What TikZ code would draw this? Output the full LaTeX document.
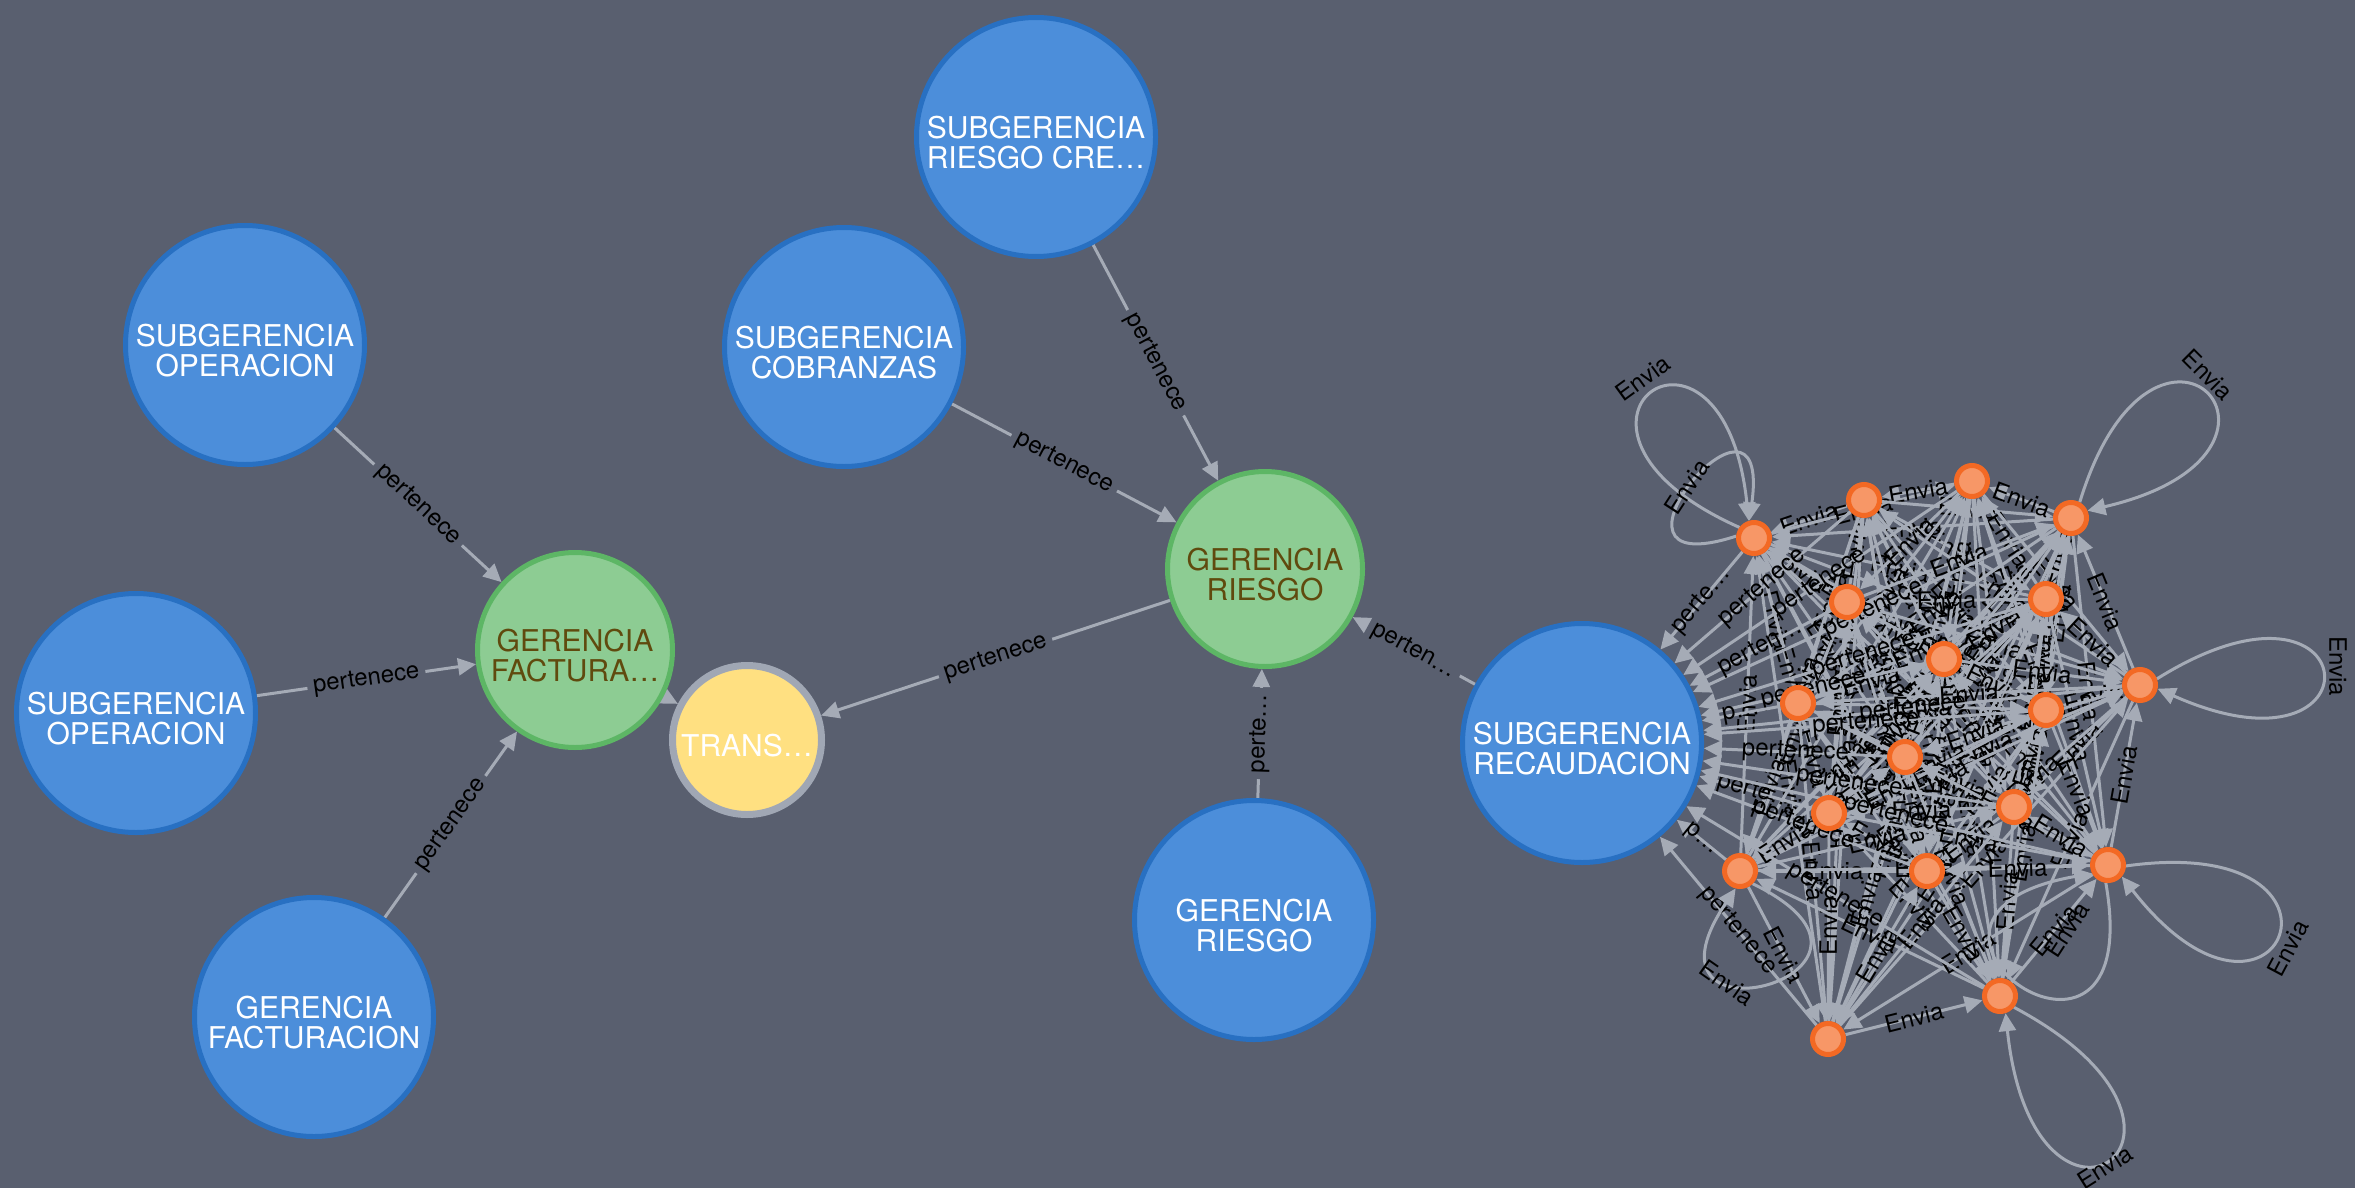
\documentclass[tikz,border=0pt]{standalone}
\usepackage{fontspec}
\setmainfont{TeX Gyre Heros}
\usetikzlibrary{arrows.meta,calc}
\definecolor{bgc}{HTML}{595F6F}
\definecolor{edgec}{HTML}{A5ABB6}
\definecolor{bluef}{HTML}{4C8EDA}
\definecolor{blued}{HTML}{2870C2}
\definecolor{greenf}{HTML}{8DCC93}
\definecolor{greend}{HTML}{5DB665}
\definecolor{greent}{HTML}{604A0E}
\definecolor{yellowf}{HTML}{FFE081}
\definecolor{yellowd}{HTML}{A0A7B4}
\definecolor{orangef}{HTML}{F79767}
\definecolor{oranged}{HTML}{F36924}
\newcommand\nodecapfont{\fontsize{30}{30}\selectfont}
\newcommand\relcapfont{\fontsize{24}{24}\selectfont}
\newcommand\capup{\rule{0pt}{34pt}}
\pgfdeclarelayer{back}\pgfdeclarelayer{edges}
\pgfsetlayers{back,edges,main}
\tikzset{
  bnode/.style={circle, fill=bluef, draw=blued, line width=5pt, minimum size=239pt, inner sep=0pt,
    text=white, font=\nodecapfont, align=center},
  gnode/.style={circle, fill=greenf, draw=greend, line width=5pt, minimum size=195pt, inner sep=0pt,
    text=greent, font=\nodecapfont, align=center},
  ynode/.style={circle, fill=yellowf, draw=yellowd, line width=7pt, minimum size=149pt, inner sep=0pt,
    text=white, font=\nodecapfont, align=center},
  onode/.style={circle, fill=orangef, draw=oranged, line width=5pt, minimum size=31pt, inner sep=0pt},
  rel/.style={draw=edgec, line width=3pt, -{Triangle[length=18pt,width=17pt]}},
  rlab/.style={font=\relcapfont, text=black, sloped, inner sep=6pt, fill=bgc},
  clab/.style={font=\relcapfont, text=black, sloped, inner sep=1pt},
  llab/.style={font=\relcapfont, text=black, inner sep=1pt},
}
\newcommand\selfloop[7]{%
  \pgfmathtruncatemacro\loopaa{#2+0.6*#3}%
  \pgfmathtruncatemacro\loopbb{#2-0.6*#3}%
  \draw[rel] (#1.\loopaa) .. controls +({-(#2+#3)}:#4) and +({-(#2-#3)}:#4) .. (#1.\loopbb);
  \node[llab, rotate=#7] at (#5,#6) {Envia};
}
\begin{document}
\begin{tikzpicture}[x=1pt,y=-1pt]
\useasboundingbox (0,0) rectangle (2355,1188);
\begin{pgfonlayer}{back}
  \fill[bgc] (0,0) rectangle (2355,1188);
\end{pgfonlayer}

% main nodes
\node[bnode] (sro) at (245,345) {\capup SUBGERENCIA\\OPERACION};
\node[bnode] (slo) at (136,713) {\capup SUBGERENCIA\\OPERACION};
\node[bnode] (gfac) at (314,1017) {\capup GERENCIA\\FACTURACION};
\node[gnode] (gf) at (575,650) {\capup GERENCIA\\FACTURA…};
\node[ynode] (tr) at (747,740) {\capup TRANS…};
\node[bnode] (cob) at (844,347) {\capup SUBGERENCIA\\COBRANZAS};
\node[bnode] (crd) at (1036,137) {\capup SUBGERENCIA\\RIESGO CRE…};
\node[gnode] (gr) at (1265,569) {\capup GERENCIA\\RIESGO};
\node[bnode] (grb) at (1254,920) {\capup GERENCIA\\RIESGO};
\node[bnode] (rec) at (1582,743) {\capup SUBGERENCIA\\RECAUDACION};

% orange nodes
\foreach \n/\x/\y in {1/1754/538, 2/1864/500, 3/1972/481, 4/2071/518, 5/1847/602,
  6/2046/599, 7/1944/659, 8/1798/703, 9/2140/685, 10/2046/710, 11/1905/757,
  12/1829/813, 13/2014/807, 14/1740/871, 15/1927/871, 16/2108/865, 17/2000/996, 18/1828/1039}
  \node[onode] (o\n) at (\x,\y) {};

\begin{pgfonlayer}{edges}
  \draw[rel] (sro) -- node[rlab]{pertenece} (gf);
  \draw[rel] (slo) -- node[rlab]{pertenece} (gf);
  \draw[rel] (gfac) -- node[rlab]{pertenece} (gf);
  \draw[rel] (gf) -- (tr);
  \draw[rel] (gr) -- node[rlab]{pertenece} (tr);
  \draw[rel] (cob) -- node[rlab]{pertenece} (gr);
  \draw[rel] (crd) -- node[rlab]{pertenece} (gr);
  \draw[rel] (grb) -- node[rlab]{perte…} (gr);
  \draw[rel] (rec) -- node[rlab]{perten…} (gr);

  % Envia edges among orange nodes
  \foreach \i in {1,...,17}{
    \pgfmathtruncatemacro\jst{\i+1}
    \foreach \j in {\jst,...,18}{
      \pgfmathtruncatemacro\pp{mod(\i+\j,2)}
      \ifnum\pp=0
        \draw[rel] (o\i) -- node[clab]{Envia} (o\j);
      \else
        \draw[rel] (o\j) -- node[clab]{Envia} (o\i);
      \fi
    }
  }

  % pertenece edges to SUBGERENCIA RECAUDACION
  \foreach \k/\t in {1/perte…, 2/pertenece, 3/pertenece, 4/pertenece, 5/perten…,
    6/pertenece, 7/pertenece, 8/p…, 9/pertenece, 10/pertenece, 11/pertenece,
    12/perte…, 13/pertenece, 14/p…, 15/pertenece, 16/pertenece, 17/pertenece, 18/pertenece}
    \draw[rel] (o\k) -- node[clab]{\t} (rec);

  % self loops
  \selfloop{o1}{126}{30}{246}{1643}{378}{36}
  \selfloop{o1}{140}{58}{171}{1687}{487}{57}
  \selfloop{o4}{43}{30}{256}{2208}{375}{-45}
  \selfloop{o9}{4}{28}{250}{2338}{666}{-90}
  \selfloop{o16}{-22}{30}{256}{2288}{948}{62}
  \selfloop{o16}{-125}{45}{249}{2067}{930}{57}
  \selfloop{o17}{-56}{28}{270}{2105}{1167}{32}
  \selfloop{o14}{-75}{49}{203}{1727}{983}{-35}
\end{pgfonlayer}
\end{tikzpicture}
\end{document}
